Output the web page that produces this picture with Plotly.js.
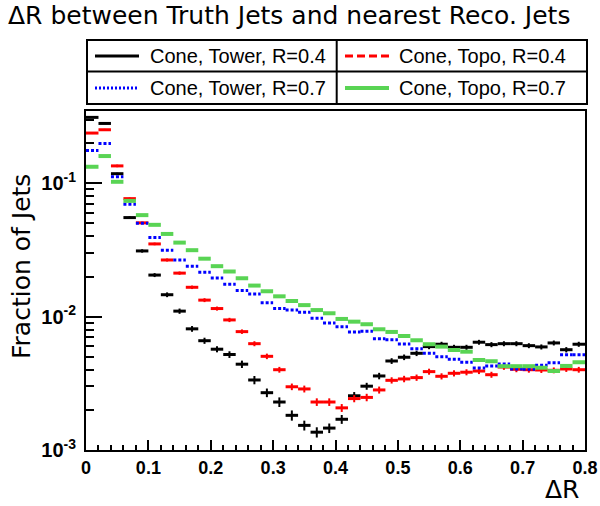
<!DOCTYPE html>
<html><head><meta charset="utf-8">
<script src="https://cdn.plot.ly/plotly-3.0.1.min.js"></script>
<style>html,body{margin:0;padding:0;background:#fff}#chart{width:600px;height:506px}</style>
</head><body><div id="chart"></div>
<script>
// ---- data ----
const binLow = [0.00,0.02,0.04,0.06,0.08,0.10,0.12,0.14,0.16,0.18,
                0.20,0.22,0.24,0.26,0.28,0.30,0.32,0.34,0.36,0.38,
                0.40,0.42,0.44,0.46,0.48,0.50,0.52,0.54,0.56,0.58,
                0.60,0.62,0.64,0.66,0.68,0.70,0.72,0.74,0.76,0.78];
const binWidth = 0.02;
const seriesNames = ["Cone, Tower, R=0.4","Cone, Topo, R=0.4","Cone, Tower, R=0.7","Cone, Topo, R=0.7"];
const coneTowerR04 = [0.312,0.281,0.118,0.0553,0.0311,0.0205,0.0146,0.0110,0.0081,0.0066,
  0.0057,0.0052,0.0044,0.00335,0.00269,0.00229,0.00182,0.00153,0.00136,0.00146,
  0.00170,0.00255,0.00301,0.00359,0.00465,0.00496,0.00531,0.00596,0.00621,0.00589,
  0.00589,0.00643,0.00617,0.00627,0.00627,0.00606,0.00593,0.00635,0.00565,0.00621];
const coneTowerR04Err = [0.003,0.003,0.002,0.0012,0.0009,0.0007,0.0006,0.0005,0.0004,0.00035,
  0.0003,0.0003,0.00028,0.00024,0.0002,0.00019,0.00016,0.00013,0.00012,0.00012,
  0.00013,0.00017,0.00018,0.0002,0.00023,0.00024,0.00025,0.00026,0.00027,0.00026,
  0.00026,0.00027,0.00027,0.00027,0.00027,0.00026,0.00026,0.00027,0.00026,0.00027];
const coneTopoR04 = [0.238,0.252,0.135,0.0767,0.0505,0.0351,0.0266,0.0212,0.0166,0.0133,
  0.0115,0.00945,0.00772,0.00627,0.00504,0.00400,0.00298,0.00287,0.00229,0.00229,
  0.00207,0.00243,0.00248,0.00282,0.00333,0.00341,0.00349,0.00387,0.00357,0.00376,
  0.00383,0.00391,0.00367,0.00419,0.00403,0.00400,0.00398,0.00396,0.00405,0.00400];
const coneTopoR04Err = [0.004,0.004,0.003,0.0015,0.001,0.0008,0.0007,0.0006,0.0005,0.00045,
  0.0004,0.00035,0.0003,0.00027,0.00024,0.0002,0.00017,0.00017,0.00015,0.00015,
  0.00014,0.00015,0.00016,0.00017,0.00018,0.00019,0.00019,0.0002,0.00019,0.0002,
  0.0002,0.0002,0.00019,0.0002,0.0002,0.0002,0.0002,0.0002,0.0002,0.0002];
const coneTowerR07 = [0.176,0.199,0.112,0.0697,0.0502,0.0392,0.0315,0.0266,0.0239,0.0215,
  0.0195,0.0175,0.0157,0.0148,0.0127,0.0115,0.0112,0.0108,0.00973,0.00897,
  0.00841,0.00768,0.00777,0.00684,0.00672,0.00624,0.00575,0.00531,0.00501,0.00479,
  0.00455,0.00412,0.00427,0.00442,0.00405,0.00403,0.00432,0.00452,0.00519,0.00519];
const coneTopoR07 = [0.133,0.160,0.1026,0.0738,0.0577,0.0488,0.0417,0.0359,0.0315,0.0272,
  0.0239,0.0218,0.0194,0.0171,0.0155,0.0142,0.0131,0.0122,0.0112,0.0106,
  0.00961,0.00917,0.00877,0.00804,0.00768,0.00716,0.00665,0.00621,0.00596,0.00562,
  0.00546,0.00473,0.00463,0.00425,0.00425,0.00425,0.00414,0.00391,0.00427,0.00455];
const yTickVals = [0.001,0.01,0.1];
const yTickText = ["10<sup>-3</sup>","10<sup>-2</sup>","10<sup>-1</sup>"];
const yMinorVals = [0.002,0.003,0.004,0.005,0.006,0.007,0.008,0.009,
                    0.02,0.03,0.04,0.05,0.06,0.07,0.08,0.09,0.2,0.3];

// ---- styles ----
const colors = ["#000000","#ff0000","#0000ff","#59d454"];
const widths = [3,3,3,4];
const dashes = ["solid","solid","3px,2px","solid"];

function stepTrace(vals, k){
  const x=[], y=[];
  vals.forEach((v,i)=>{ x.push(binLow[i], binLow[i]+binWidth, null); y.push(v, v, null); });
  return {x, y, type:"scatter", mode:"lines", name:seriesNames[k], showlegend:false,
          line:{color:colors[k], width:widths[k], dash:dashes[k]}, hoverinfo:"skip"};
}
function errTrace(vals, errs, k){
  return {x: binLow.map(b=>b+binWidth/2), y: vals, type:"scatter", mode:"markers",
          showlegend:false, marker:{size:1, color:"rgba(0,0,0,0)"},
          error_y:{type:"data", array:errs, visible:true, thickness:2, width:0, color:colors[k]},
          hoverinfo:"skip"};
}
const traces = [
  stepTrace(coneTowerR04,0), errTrace(coneTowerR04,coneTowerR04Err,0),
  stepTrace(coneTopoR04,1), errTrace(coneTopoR04,coneTopoR04Err,1),
  stepTrace(coneTowerR07,2),
  stepTrace(coneTopoR07,3)
];

// ---- layout helpers (pixel -> paper) ----
const L=86, R=585, T=111, B=450;
const px = v => (v-L)/(R-L);
const py = v => (B-v)/(B-T);

const shapes = [
  {type:"rect", xref:"paper", yref:"paper", x0:px(87), x1:px(587), y0:py(40), y1:py(104), line:{color:"#000", width:2}},
  {type:"line", xref:"paper", yref:"paper", x0:px(87), x1:px(587), y0:py(71.5), y1:py(71.5), line:{color:"#000", width:2}},
  {type:"line", xref:"paper", yref:"paper", x0:px(336.7), x1:px(336.7), y0:py(40), y1:py(104), line:{color:"#000", width:2}},
  {type:"line", xref:"paper", yref:"paper", x0:px(95), x1:px(139), y0:py(56), y1:py(56), line:{color:colors[0], width:3}},
  {type:"line", xref:"paper", yref:"paper", x0:px(345), x1:px(389), y0:py(56), y1:py(56), line:{color:colors[1], width:3, dash:"8px,4px"}},
  {type:"line", xref:"paper", yref:"paper", x0:px(95), x1:px(139), y0:py(88), y1:py(88), line:{color:colors[2], width:3, dash:"2px,2px"}},
  {type:"line", xref:"paper", yref:"paper", x0:px(345), x1:px(389), y0:py(88), y1:py(88), line:{color:colors[3], width:4}}
];
const legFont = {family:"Liberation Sans, Arial, sans-serif", size:20, color:"#000"};
const annotations = [
  {xref:"paper", yref:"paper", x:px(148), y:py(56), xanchor:"left", yanchor:"middle", text:seriesNames[0], showarrow:false, font:legFont},
  {xref:"paper", yref:"paper", x:px(397), y:py(56), xanchor:"left", yanchor:"middle", text:seriesNames[1], showarrow:false, font:legFont},
  {xref:"paper", yref:"paper", x:px(148), y:py(88), xanchor:"left", yanchor:"middle", text:seriesNames[2], showarrow:false, font:legFont},
  {xref:"paper", yref:"paper", x:px(397), y:py(88), xanchor:"left", yanchor:"middle", text:seriesNames[3], showarrow:false, font:legFont},
  {xref:"paper", yref:"paper", x:px(21), y:py(267), xanchor:"center", yanchor:"middle", textangle:-90, text:"Fraction of Jets", showarrow:false,
   font:{family:"DejaVu Sans", size:25, color:"#000"}},
  {xref:"paper", yref:"paper", x:px(581), y:py(490), xanchor:"right", yanchor:"middle", text:"ΔR", showarrow:false,
   font:{family:"DejaVu Sans", size:25, color:"#000"}}
];
const xTickFont = {family:"Liberation Sans, Arial, sans-serif", size:18, weight:"bold", color:"#000"};
const yTickFont = {family:"Liberation Sans, Arial, sans-serif", size:20, weight:"bold", color:"#000"};

const layout = {
  width:600, height:506,
  margin:{l:L, r:600-R, t:T, b:506-B, pad:0},
  paper_bgcolor:"#fff", plot_bgcolor:"#fff",
  showlegend:false,
  title:{text:"ΔR between Truth Jets and nearest Reco. Jets", font:{family:"DejaVu Sans", size:25, color:"#000"},
         xref:"container", yref:"container", x:8/600, xanchor:"left", y:1-15/506, yanchor:"middle"},
  xaxis:{range:[0,0.8], tick0:0, dtick:0.1, ticks:"inside", ticklen:10, tickwidth:2, tickcolor:"#000",
         showline:true, linewidth:2, linecolor:"#000", mirror:true, showgrid:false, zeroline:false,
         tickfont:xTickFont, minor:{dtick:0.02, tick0:0, ticks:"inside", ticklen:5, tickwidth:2, tickcolor:"#000", showgrid:false}},
  yaxis:{type:"log", range:[-3,-0.458], tickmode:"array", tickvals:yTickVals, ticktext:yTickText,
         ticks:"inside", ticklen:16, tickwidth:2, tickcolor:"#000", ticklabelstandoff:4,
         showline:true, linewidth:2, linecolor:"#000", mirror:true, showgrid:false, zeroline:false,
         tickfont:yTickFont, minor:{tickmode:"array", tickvals:yMinorVals, ticks:"inside", ticklen:8, tickwidth:2, tickcolor:"#000", showgrid:false}},
  shapes, annotations
};
Plotly.newPlot("chart", traces, layout, {displayModeBar:false, staticPlot:true});
</script></body></html>
